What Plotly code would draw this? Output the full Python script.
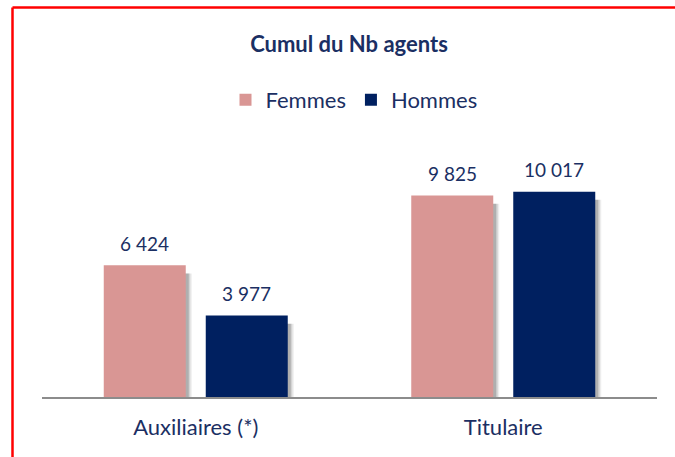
import plotly.graph_objects as go

categories = ["Auxiliaires (*)", "Titulaire"]
femmes = [6424, 9825]
hommes = [3977, 10017]
series_names = ["Femmes", "Hommes"]
colors = ["#D99694", "#002060"]
text_color = "#1B2F63"
font_family = "Lato, 'Open Sans', sans-serif"

unit = 307.5  # px per category
bar_w = 82 / unit
offsets = [-92 / unit, 10 / unit]
shadow_dy = 200  # data units drop for shadow

def fmt(v):
    return f"{v:,}".replace(",", " ")

fig = go.Figure()
series = [femmes, hommes]
# shadows
for vals, off in zip(series, offsets):
    for dx, op in [(6, 0.07), (4.5, 0.11), (3, 0.17)]:
        fig.add_trace(go.Bar(
            x=categories, y=[v - shadow_dy for v in vals], base=-shadow_dy,
            offset=off + dx / unit, width=bar_w,
            marker=dict(color=f"rgba(0,0,0,{op})", line=dict(width=0)),
            showlegend=False, hoverinfo="skip"))
for name, vals, off, c in zip(series_names, series, offsets, colors):
    fig.add_trace(go.Bar(
        x=categories, y=vals, name=name, offset=off, width=bar_w,
        marker=dict(color=c, line=dict(width=0))))

for vals, off in zip(series, offsets):
    for cat, v in zip(categories, vals):
        fig.add_annotation(x=cat, y=v, text=fmt(v), showarrow=False,
                           xshift=(off + bar_w / 2) * unit, yshift=22,
                           font=dict(size=19, color=text_color, family=font_family))

plot_l, plot_w, plot_b, plot_h = 42, 615, 397, 246
fig.update_layout(
    width=675, height=457,
    margin=dict(l=42, r=18, t=151, b=60),
    barmode="overlay",
    paper_bgcolor="white", plot_bgcolor="white",
    title=dict(text="<b>Cumul du Nb agents</b>", x=349 / 675, xanchor="center",
               y=1 - 44 / 457, yanchor="middle",
               font=dict(size=22, color=text_color, family=font_family)),
    legend=dict(orientation="h", x=354 / 675, xanchor="center", xref="container",
                y=1 - 100 / 457, yanchor="middle", yref="container",
                font=dict(size=22, color=text_color, family=font_family),
                itemwidth=30, traceorder="normal"),
    xaxis=dict(showline=True, linecolor="#8C8C8C", linewidth=2,
               ticks="", showgrid=False, range=[-0.5, 1.5],
               tickfont=dict(size=22, color=text_color, family=font_family),
               ticklabelstandoff=10),
    yaxis=dict(visible=False, range=[0, 12000], showgrid=False),
    shapes=[
        dict(type="line", xref="paper", yref="paper",
             x0=(12.5 - plot_l) / plot_w, x1=(675 - plot_l) / plot_w,
             y0=(plot_b - 7.5) / plot_h, y1=(plot_b - 7.5) / plot_h,
             line=dict(color="#FF0000", width=2.5), layer="above"),
        dict(type="line", xref="paper", yref="paper",
             x0=(12.5 - plot_l) / plot_w, x1=(12.5 - plot_l) / plot_w,
             y0=(plot_b - 7.5) / plot_h, y1=(plot_b - 457) / plot_h,
             line=dict(color="#FF0000", width=2.5), layer="above"),
    ],
)
fig.write_html("out.html", config={"displayModeBar": False},
               post_script="document.body.style.margin='0';")
